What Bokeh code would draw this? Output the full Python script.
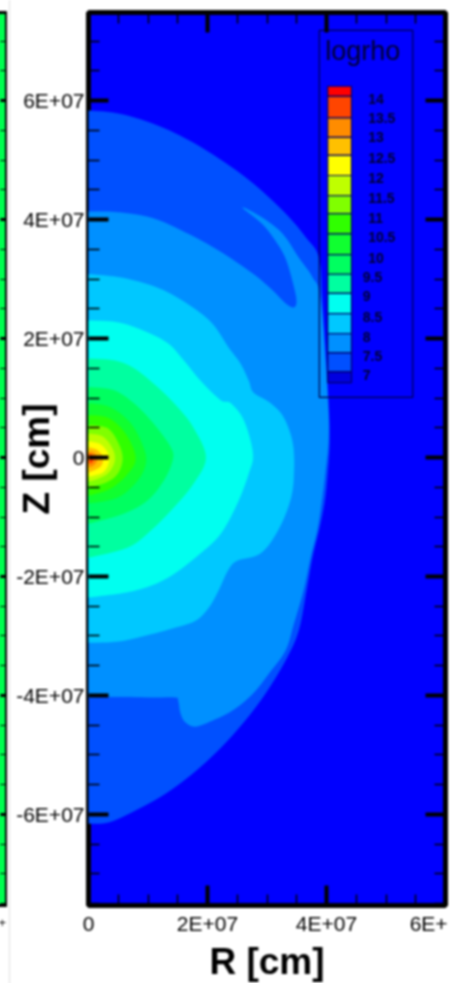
import math
from bokeh.plotting import figure
from bokeh.layouts import row
from bokeh.models import LinearAxis, FixedTicker, Range1d
from bokeh.core.properties import value
from bokeh.embed import file_html
from bokeh.resources import INLINE

# ---- data: R and Z in units of 1E+07 cm, contour regions outermost first
major_ticks = [-6, -4, -2, 0, 2, 4, 6]
z_minor = [-7.5, -7, -6.5, -5.5, -5, -4.5, -3.5, -3, -2.5, -1.5, -1, -0.5,
           0.5, 1, 1.5, 2.5, 3, 3.5, 4.5, 5, 5.5, 6.5, 7]
x_ticks = [0, 2, 4, 6]
x_minor = [0.5, 1, 1.5, 2.5, 3, 3.5, 4.5, 5, 5.5]
x_labels = {0: "0", 2: "2E+07", 4: "4E+07", 6: ""}
y_labels = {-6: "-6E+07", -4: "-4E+07", -2: "-2E+07", 0: "0", 2: "2E+07", 4: "4E+07", 6: "6E+07"}
cut_label_at = 5.78
cut_label = "6E+"
strip_cut_label = "+"

bg_color = "#0000ff"
strip_color = "#00ff50"

r_70 = [0, .50, 1.08, 1.63, 2.18, 2.76, 3.31, 3.65, 3.87, 3.93, 4.03, 4.05, 4.02, 3.97, 3.88, 3.76, 3.66,
        3.53, 3.31, 2.97, 2.59, 2.18, 1.75, 1.29, .79, .34, 0]
z_70 = [5.83, 5.78, 5.61, 5.36, 5.03, 4.61, 4.10, 3.70, 3.36, 2.64, .96, .29, -.22, -.72, -1.18, -1.68, -2.24,
        -2.91, -3.41, -3.97, -4.47, -4.92, -5.31, -5.65, -5.93, -6.13, -6.15]
r_75 = [0, .50, 1.08, 1.63, 2.18, 2.76, 3.09, 3.31, 3.45, 3.50, 3.43, 3.31, 3.14, 2.92, 2.59, 2.92, 3.26, 3.53,
        3.76, 3.90, 4.02, 4.03, 3.98, 3.93, 3.85, 3.73, 3.61, 3.45, 3.31, 3.03, 2.76, 2.42, 2.08, 1.80, 1.63,
        1.55, 1.51, 1.46, 1.08, .50, 0]
z_75 = [4.13, 4.12, 4.02, 3.78, 3.48, 3.09, 2.81, 2.59, 2.52, 2.64, 2.97, 3.36, 3.65, 3.93, 4.20, 4.03, 3.76, 3.36,
        3.03, 2.64, .96, .29, -.22, -.64, -1.18, -1.68, -2.24, -2.79, -3.24, -3.63, -3.97, -4.25, -4.42, -4.52, -4.45,
        -4.30, -4.08, -4.03, -4.03, -4.02, -4.03]
r_80 = [0, .50, .96, 1.34, 1.75, 2.08, 2.35, 2.55, 2.69, 2.77, 3.06, 3.28, 3.43, 3.45, 3.39, 3.18, 2.89, 2.50,
        2.34, 2.18, 2.02, 1.80, 1.41, .96, .50, 0]
z_80 = [3.08, 3.03, 2.92, 2.77, 2.52, 2.25, 1.85, 1.58, 1.29, 1.09, .91, .67, .24, -.27, -.72, -1.23, -1.61, -1.73,
        -1.90, -2.24, -2.52, -2.74, -2.87, -2.99, -3.09, -3.11]
r_85 = [0, .49, .92, 1.33, 1.60, 1.88, 2.22, 2.39, 2.61, 2.76, 2.69, 2.50, 2.22, 1.88, 1.33, .76, 0]
z_85 = [2.30, 2.27, 2.13, 1.92, 1.63, 1.29, .96, .91, .62, .07, -.27, -.77, -1.28, -1.61, -2.02, -2.24, -2.35]
r_90 = [0, .42, .76, 1.16, 1.50, 1.76, 1.97, 1.76, 1.43, 1.04, .66, 0]
z_90 = [1.66, 1.63, 1.50, 1.18, .84, .50, 0, -.44, -.84, -1.23, -1.51, -1.68]
r_95 = [0, .42, .76, 1.09, 1.38, 1.41, 1.26, .99, .59, 0]
z_95 = [1.18, 1.13, .91, .57, .17, -.05, -.39, -.72, -.94, -1.11]
r_100 = [0, .37, .71, .92, .96, .82, .49, 0]
z_100 = [.91, .84, .57, .17, -.10, -.39, -.67, -.77]
r_105 = [0, .34, .62, .79, .66, .37, 0]
z_105 = [.71, .66, .40, 0, -.27, -.52, -.64]
r_110 = [0, .32, .50, .57, .49, .29, 0]
z_110 = [.54, .49, .24, -.02, -.27, -.42, -.49]
r_115 = [0, .24, .40, .44, .34, .17, 0]
z_115 = [.40, .35, .15, -.05, -.25, -.35, -.40]
r_120 = [0, .20, .32, .34, .24, 0]
z_120 = [.27, .22, .08, -.08, -.25, -.32]
r_125 = [0, .15, .24, .20, 0]
z_125 = [.17, .12, 0, -.15, -.25]
r_130 = [0, .10, .15, .10, 0]
z_130 = [.10, .07, -.02, -.12, -.17]
r_135 = [0, .07, .07, 0]
z_135 = [.07, .02, -.07, -.10]

region_r = [r_70, r_75, r_80, r_85, r_90, r_95, r_100, r_105, r_110, r_115, r_120, r_125, r_130, r_135]
region_z = [z_70, z_75, z_80, z_85, z_90, z_95, z_100, z_105, z_110, z_115, z_120, z_125, z_130, z_135]
region_colors = ["#0050ff", "#0090ff", "#00c8ff", "#00fff0", "#00ffa0", "#00ff60", "#10ff30", "#30ff00",
                 "#80ff00", "#bfff00", "#ffff00", "#ffc000", "#ff8c00", "#ff4500"]

legend_title = "logrho"
legend_values = ["14", "13.5", "13", "12.5", "12", "11.5", "11", "10.5", "10", "9.5", "9", "8.5", "8", "7.5", "7"]
legend_value_z = [6.02, 5.70, 5.38, 5.03, 4.69, 4.37, 4.03, 3.70, 3.36, 3.03, 2.71, 2.37, 2.03, 1.71, 1.38]
legend_colors = ["#ff0000", "#ff4500", "#ff8c00", "#ffc000", "#ffff00", "#bfff00", "#80ff00", "#30ff00",
                 "#10ff30", "#00ff60", "#00ffa0", "#00fff0", "#00c8ff", "#0090ff", "#0050ff", "#0000e0"]
legend_edges_z = [6.24, 6.07, 5.71, 5.38, 5.08, 4.74, 4.40, 4.10, 3.76, 3.41, 3.08, 2.76, 2.42, 2.08, 1.76, 1.44, 1.26]


def rounded(xs, ys, n=6):
    """Draw the read contour as a smooth curve through its points."""
    ox, oy = [], []
    m = len(xs)
    for i in range(m - 1):
        p0, p1, p2, p3 = max(i - 1, 0), i, i + 1, min(i + 2, m - 1)
        for k in range(n):
            t = k / n
            for src, out in ((xs, ox), (ys, oy)):
                a, b, c, d = src[p0], src[p1], src[p2], src[p3]
                out.append(0.5 * (2 * b + (c - a) * t + (2 * a - 5 * b + 4 * c - d) * t * t
                                  + (3 * b - a - 3 * c + d) * t ** 3))
    ox.append(xs[-1])
    oy.append(ys[-1])
    return [max(v, 0) for v in ox], oy


# ---- figures
FONT = "Liberation Sans"
INK = "#000030"
y_lo, y_hi = -7.53, 7.48

strip = figure(frame_width=11, frame_height=893, width=11, height=983,
               x_range=Range1d(0, 11), y_range=Range1d(y_lo, y_hi),
               x_axis_location=None, y_axis_location=None, toolbar_location=None,
               output_backend="svg", min_border_left=0, min_border_right=0,
               min_border_top=12, min_border_bottom=78,
               styles={"margin-left": "-4px", "margin-right": "2px"})
strip.grid.visible = False
strip.background_fill_color = strip_color
strip.outline_line_color = "black"
strip.outline_line_width = 3
sa = LinearAxis(ticker=FixedTicker(ticks=major_ticks, minor_ticks=z_minor),
                major_tick_in=7, major_tick_out=0, minor_tick_in=7, minor_tick_out=0,
                major_tick_line_width=3, minor_tick_line_width=1, axis_line_color=None,
                major_label_overrides={t: "" for t in major_ticks}, major_label_standoff=0)
strip.add_layout(sa, "right")
sb = LinearAxis(ticker=FixedTicker(ticks=[8.5]), major_label_overrides={8.5: strip_cut_label},
                major_tick_in=0, major_tick_out=0, minor_tick_in=0, minor_tick_out=0, axis_line_color=None,
                major_label_text_font=FONT, major_label_text_font_size="13px", major_label_text_color="#111111",
                major_label_standoff=12)
strip.add_layout(sb, "below")

p = figure(frame_width=356, frame_height=893, width=441, height=983,
           x_range=Range1d(0, 6), y_range=Range1d(y_lo, y_hi),
           toolbar_location=None, output_backend="svg",
           min_border_left=78, min_border_right=5, min_border_top=12, min_border_bottom=78,
           styles={"border-left": "1px solid #dddddd"})
p.grid.visible = False
p.background_fill_color = bg_color
p.outline_line_color = "black"
p.outline_line_width = 5

for rr, zz, col in zip(region_r, region_z, region_colors):
    sr, sz = rounded(rr, zz)
    p.patch(sr, sz, fill_color=col, line_color=col, line_width=0.5)

xa = p.xaxis[0]
ya = p.yaxis[0]
xa.ticker = FixedTicker(ticks=x_ticks, minor_ticks=x_minor)
ya.ticker = FixedTicker(ticks=major_ticks, minor_ticks=z_minor)
xa.major_label_overrides = x_labels
ya.major_label_overrides = y_labels
ya.major_label_orientation = "horizontal"
for a in (xa, ya):
    a.major_label_text_font = FONT
    a.major_label_text_font_size = "21px"
    a.major_label_text_color = "#000000"
xa.major_label_standoff = 6
ya.major_label_standoff = 4
ya.axis_label = "Z [cm]"
ya.axis_label_standoff = -44
ya.axis_label_text_font = FONT
ya.axis_label_text_font_style = "bold"
ya.axis_label_text_font_size = "37px"
ya.axis_label_text_color = "#000000"


def style_ticks(a):
    a.major_tick_in = 20
    a.major_tick_out = 0
    a.minor_tick_in = 11
    a.minor_tick_out = 0
    a.major_tick_line_width = 4
    a.minor_tick_line_width = 1.5
    a.major_tick_line_color = "black"
    a.minor_tick_line_color = "black"
    a.axis_line_color = None


style_ticks(xa)
style_ticks(ya)
top = LinearAxis(ticker=FixedTicker(ticks=x_ticks, minor_ticks=x_minor),
                 major_label_overrides={t: "" for t in x_ticks}, major_label_standoff=0)
right = LinearAxis(ticker=FixedTicker(ticks=major_ticks, minor_ticks=z_minor),
                   major_label_overrides={t: "" for t in major_ticks}, major_label_standoff=0)
style_ticks(top)
style_ticks(right)
p.add_layout(top, "above")
p.add_layout(right, "right")

# second bottom axis: holds the cut-off tick label and the R title
xb = LinearAxis(ticker=FixedTicker(ticks=[cut_label_at]), major_label_overrides={cut_label_at: cut_label},
                major_tick_in=0, major_tick_out=0, minor_tick_in=0, minor_tick_out=0, axis_line_color=None,
                major_label_text_font=FONT, major_label_text_font_size="21px", major_label_text_color="#000000",
                major_label_standoff=-26,
                axis_label="R [cm]", axis_label_standoff=3, axis_label_text_font=FONT,
                axis_label_text_font_style="bold", axis_label_text_font_size="37px", axis_label_text_color="#000000")
p.add_layout(xb, "below")

# legend box
p.quad(left=[3.88], right=[5.45], top=[7.18], bottom=[1.01], fill_color=None,
       line_color="#00004a", line_width=1.2)
p.quad(left=[4.02] * len(legend_colors), right=[4.42] * len(legend_colors),
       top=legend_edges_z[:-1], bottom=legend_edges_z[1:],
       fill_color=legend_colors, line_color="#00006a", line_width=1.2)
p.text(x=[3.98], y=[6.84], text=[legend_title], text_font=value(FONT), text_font_size="27px",
       text_color=INK, text_align="left", text_baseline="middle")
p.text(x=[4.70 if float(v) >= 10 else 4.61 for v in legend_values], y=legend_value_z, text=legend_values,
       text_font=value(FONT), text_font_size="14px", text_font_style="bold", text_color=INK,
       text_align="left", text_baseline="middle")

page = row(strip, p, spacing=0, styles={"filter": "blur(0.8px)"})
open("out.html", "w").write(file_html(page, INLINE))
